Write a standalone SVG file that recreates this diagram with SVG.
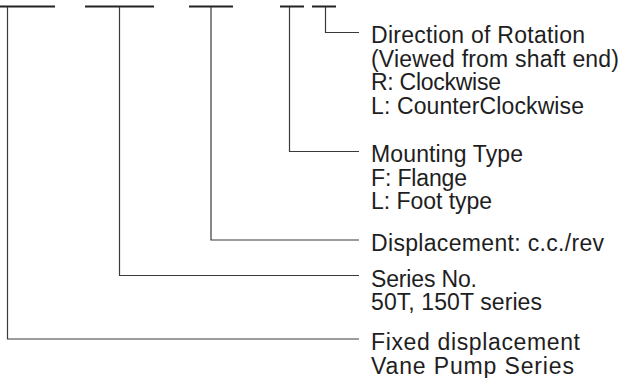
<svg xmlns="http://www.w3.org/2000/svg" width="620" height="378" viewBox="0 0 620 378">
<style>
.bar{stroke:#222;stroke-width:2;fill:none}
.ln{stroke:#3a3a3a;stroke-width:1.2;fill:none}
text{font-family:"Liberation Sans",Arial,sans-serif;font-size:23px;fill:#1e1e1e}
</style>
<rect width="620" height="378" fill="#fff"/>
<g id="code-bars">
<line class="bar" x1="0" y1="6.5" x2="55" y2="6.5"/>
<line class="bar" x1="85" y1="6.5" x2="154" y2="6.5"/>
<line class="bar" x1="189" y1="6.5" x2="233" y2="6.5"/>
<line class="bar" x1="280" y1="6.5" x2="304" y2="6.5"/>
<line class="bar" x1="312" y1="6.5" x2="336" y2="6.5"/>
</g>
<g id="connectors">
<polyline class="ln" points="325.5,7 325.5,32.5 359,32.5"/>
<polyline class="ln" points="289.5,7 289.5,151.5 359,151.5"/>
<polyline class="ln" points="211,7 211,240 359,240"/>
<polyline class="ln" points="119.5,7 119.5,275.5 359,275.5"/>
<polyline class="ln" points="7.5,7 7.5,339 359,339"/>
</g>
<g id="rotation">
<text x="371" y="43.3" textLength="214" lengthAdjust="spacing">Direction of Rotation</text>
<text x="371" y="66.8" textLength="248" lengthAdjust="spacing">(Viewed from shaft end)</text>
<text x="371" y="90.3" textLength="130" lengthAdjust="spacing">R: Clockwise</text>
<text x="371" y="113.8" textLength="213" lengthAdjust="spacing">L: CounterClockwise</text>
</g>
<g id="mounting">
<text x="371" y="162" textLength="152" lengthAdjust="spacing">Mounting Type</text>
<text x="371" y="185.5" textLength="96" lengthAdjust="spacing">F: Flange</text>
<text x="371" y="209" textLength="121" lengthAdjust="spacing">L: Foot type</text>
</g>
<g id="displacement">
<text x="371" y="251" textLength="233" lengthAdjust="spacing">Displacement: c.c./rev</text>
</g>
<g id="series">
<text x="371" y="286.7" textLength="106" lengthAdjust="spacing">Series No.</text>
<text x="371" y="310.2" textLength="171" lengthAdjust="spacing">50T, 150T series</text>
</g>
<g id="pump">
<text x="371" y="350" textLength="209" lengthAdjust="spacing">Fixed displacement</text>
<text x="371" y="373.5" textLength="203" lengthAdjust="spacing">Vane Pump Series</text>
</g>
</svg>
